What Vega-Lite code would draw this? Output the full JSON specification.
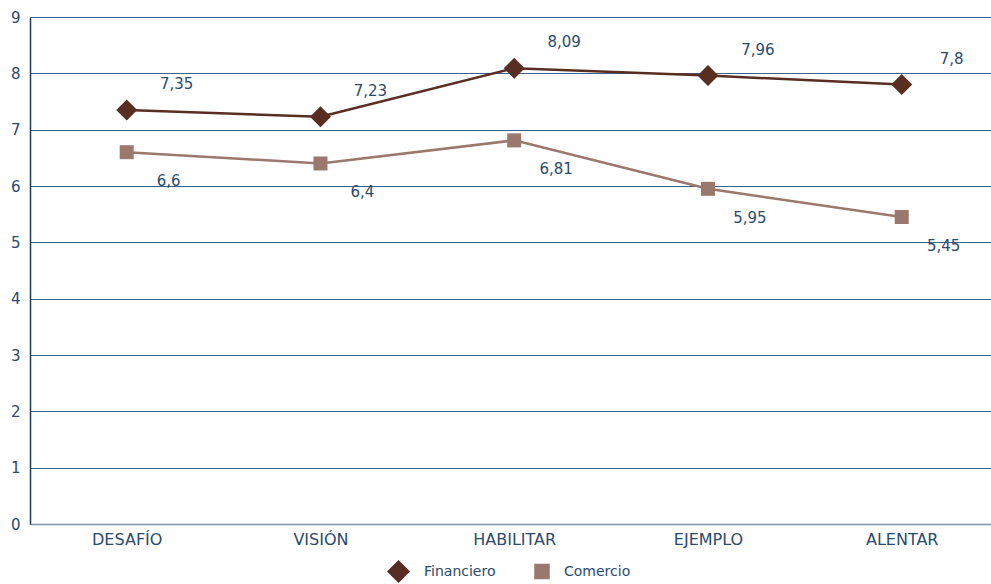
{
  "$schema": "https://vega.github.io/schema/vega-lite/v6.json",
  "autosize": {"type": "none"},
  "width": 961,
  "height": 507,
  "padding": {"left": 30, "top": 17, "right": 0, "bottom": 60},
  "background": "white",
  "config": {
    "font": "DejaVu Sans",
    "view": {"stroke": null},
    "axis": {"labelColor": "#2a4a6e", "labelFont": "DejaVu Sans", "labelFontSize": 15, "ticks": false, "title": null}
  },
  "data": {
    "values": [
      {"cat": "DESAFÍO", "serie": "Financiero", "v": 7.35, "lab": "7,35"},
      {"cat": "VISIÓN", "serie": "Financiero", "v": 7.23, "lab": "7,23"},
      {"cat": "HABILITAR", "serie": "Financiero", "v": 8.09, "lab": "8,09"},
      {"cat": "EJEMPLO", "serie": "Financiero", "v": 7.96, "lab": "7,96"},
      {"cat": "ALENTAR", "serie": "Financiero", "v": 7.8, "lab": "7,8"},
      {"cat": "DESAFÍO", "serie": "Comercio", "v": 6.6, "lab": "6,6"},
      {"cat": "VISIÓN", "serie": "Comercio", "v": 6.4, "lab": "6,4"},
      {"cat": "HABILITAR", "serie": "Comercio", "v": 6.81, "lab": "6,81"},
      {"cat": "EJEMPLO", "serie": "Comercio", "v": 5.95, "lab": "5,95"},
      {"cat": "ALENTAR", "serie": "Comercio", "v": 5.45, "lab": "5,45"}
    ]
  },
  "encoding": {
    "x": {
      "field": "cat", "type": "ordinal", "sort": null,
      "scale": {"type": "point", "padding": 0.48, "align": 0.52},
      "axis": {"labelAngle": 0, "labelPadding": 7, "labelFontSize": 16, "domain": true, "domainColor": "#7f93aa", "domainWidth": 1.5, "grid": false}
    },
    "y": {
      "field": "v", "type": "quantitative",
      "scale": {"domain": [0, 9], "nice": false, "zero": true},
      "axis": {"values": [0,1,2,3,4,5,6,7,8,9], "domainColor": "#1a3a5c", "domainWidth": 1.5, "gridColor": "#3f6189", "gridWidth": 1.2, "gridOpacity": 1, "labelPadding": 10, "format": "d"}
    }
  },
  "layer": [
    {
      "mark": {"type": "line", "strokeWidth": 2.5},
      "encoding": {
        "color": {"field": "serie", "type": "nominal", "scale": {"domain": ["Financiero", "Comercio"], "range": ["#582d22", "#9a786d"]}}
      }
    },
    {
      "mark": {"type": "point", "filled": true, "opacity": 1, "strokeWidth": 2},
      "encoding": {
        "color": {"field": "serie", "type": "nominal", "scale": {"domain": ["Financiero", "Comercio"], "range": ["#582d22", "#9a786d"]}, "legend": {"title": null, "orient": "none", "legendX": 357, "legendY": 543, "direction": "horizontal", "labelFontSize": 14, "labelColor": "#2a4a6e", "labelOffset": 14, "symbolSize": 190, "columnPadding": 36, "symbolOpacity": 1}},
        "shape": {"field": "serie", "type": "nominal", "scale": {"domain": ["Financiero", "Comercio"], "range": ["diamond", "square"]}},
        "size": {"field": "serie", "type": "nominal", "scale": {"domain": ["Financiero", "Comercio"], "range": [441, 196]}, "legend": null}
      }
    },
    {
      "transform": [{"filter": "datum.serie === 'Financiero'"}],
      "mark": {"type": "text", "dx": 50, "dy": -26, "fontSize": 15, "color": "#2a4a6e"},
      "encoding": {"text": {"field": "lab"}}
    },
    {
      "transform": [{"filter": "datum.serie === 'Comercio'"}],
      "mark": {"type": "text", "dx": 42, "dy": 29, "fontSize": 15, "color": "#2a4a6e"},
      "encoding": {"text": {"field": "lab"}}
    }
  ]
}
